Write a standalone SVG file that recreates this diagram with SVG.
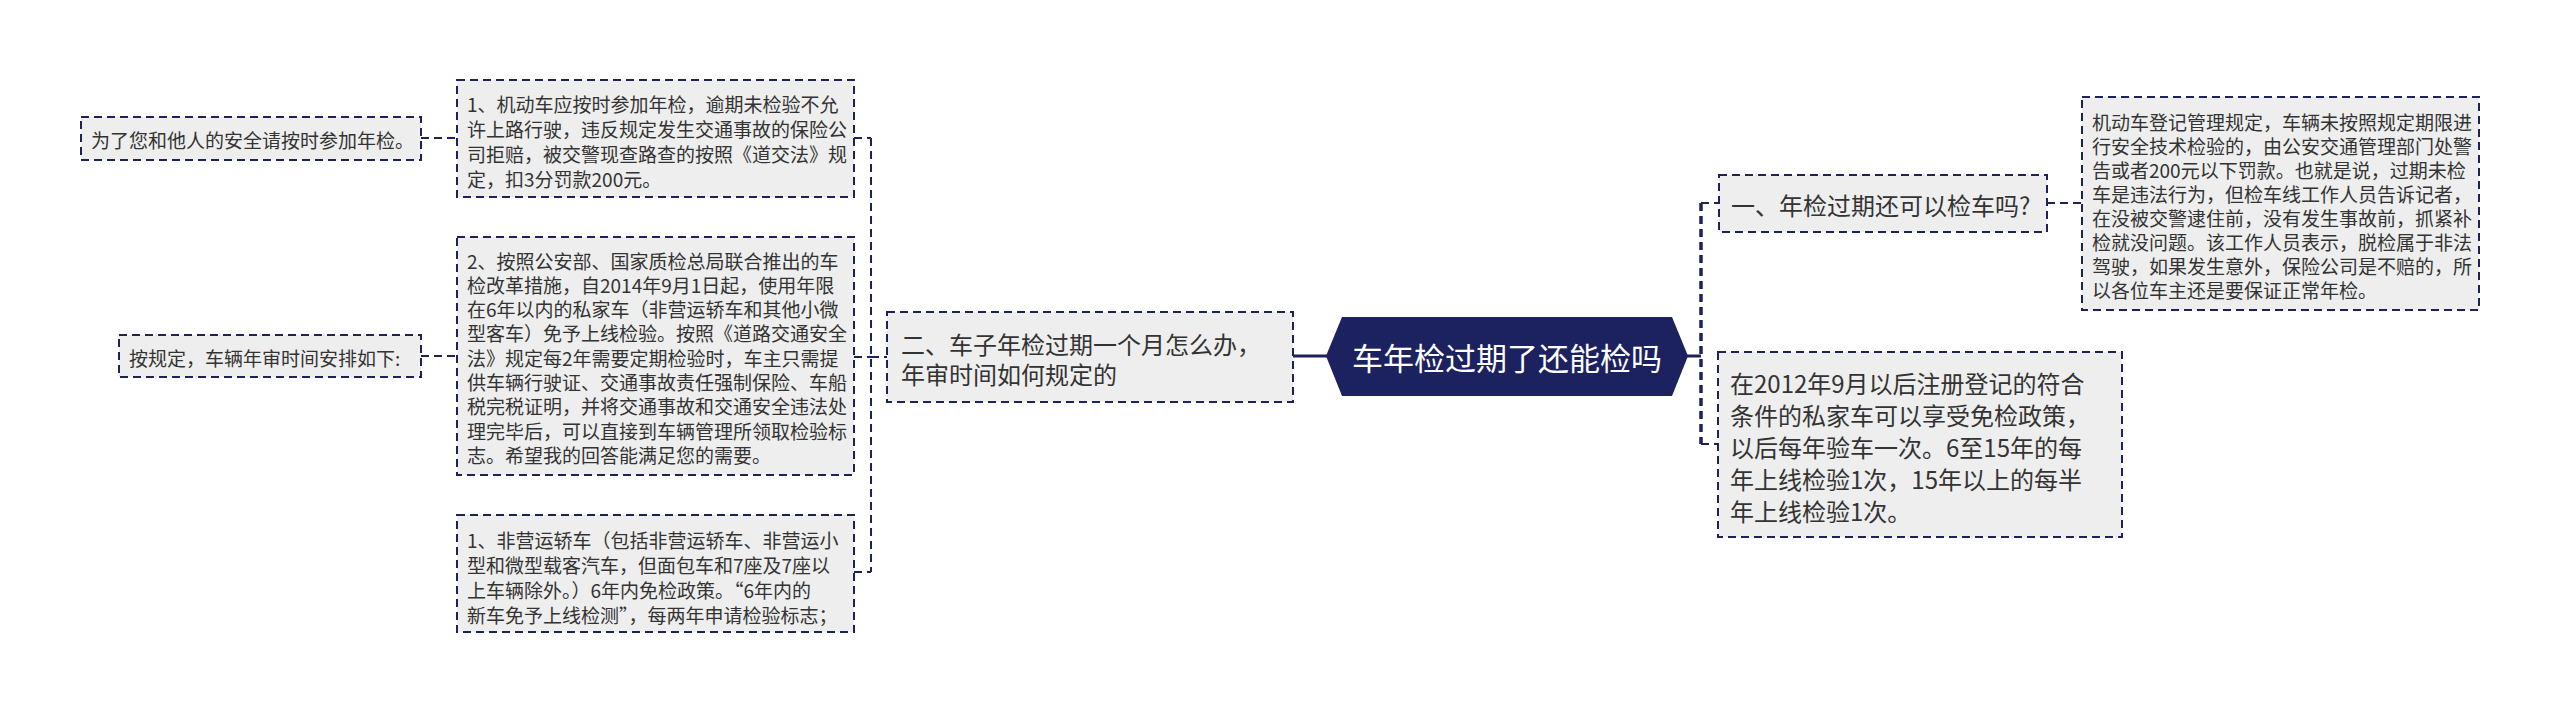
<svg xmlns="http://www.w3.org/2000/svg" width="2560" height="713" viewBox="0 0 2560 713">
<style>
.bg{fill:#ffffff}
.box{fill:#eeeeee;stroke:#1e2357;stroke-width:2;stroke-dasharray:8 5}
.t{font-family:"Noto Sans CJK SC","Noto Sans",sans-serif;fill:#333333;dominant-baseline:central}
.s19{font-size:19px}
.s24{font-size:24px}
.root{fill:#1c2160}
.rt{font-family:"Noto Sans CJK SC","Noto Sans",sans-serif;font-size:31px;fill:#ffffff;dominant-baseline:central;text-anchor:middle}
.dl{fill:none;stroke:#1e2357;stroke-width:2;stroke-dasharray:8 5}
.dr{fill:none;stroke:#1c2160;stroke-width:3.5;stroke-dasharray:8 5}
.sl{fill:none;stroke:#1c2160;stroke-width:3}
</style>
<rect class="bg" x="0" y="0" width="2560" height="713"/>
<g id="connectors">
  <line class="sl" x1="1293" y1="356" x2="1327" y2="356"/>
  <line class="dl" x1="871" y1="357" x2="887" y2="357"/>
  <line class="dl" x1="871" y1="138" x2="871" y2="572"/>
  <line class="dl" x1="854" y1="138" x2="871" y2="138"/>
  <line class="dl" x1="854" y1="357" x2="871" y2="357"/>
  <line class="dl" x1="854" y1="572" x2="871" y2="572"/>
  <line class="dl" x1="421" y1="138" x2="457" y2="138"/>
  <line class="dl" x1="421" y1="356" x2="457" y2="356"/>
  <line class="sl" x1="1687" y1="356" x2="1701" y2="356"/>
  <line class="dr" x1="1701" y1="203" x2="1701" y2="444"/>
  <line class="dl" x1="1701" y1="203" x2="1719" y2="203"/>
  <line class="dl" x1="1701" y1="444" x2="1718" y2="444"/>
  <line class="dl" x1="2047" y1="203" x2="2082" y2="203"/>
</g>
<g id="root">
  <polygon class="root" points="1326,356 1342,317 1672,317 1688,356 1672,396 1342,396"/>
  <text class="rt" x="1507" y="356">车年检过期了还能检吗</text>
</g>
<g id="n-left-main">
  <rect class="box" x="887" y="312" width="406" height="90"/>
  <text class="t s24" x="901" y="343">二、车子年检过期一个月怎么办，</text>
  <text class="t s24" x="901" y="373">年审时间如何规定的</text>
</g>
<g id="n-b1">
  <rect class="box" x="457" y="80" width="397" height="117"/>
  <text class="t s19" x="467" y="103">1、机动车应按时参加年检，逾期未检验不允</text>
  <text class="t s19" x="467" y="128">许上路行驶，违反规定发生交通事故的保险公</text>
  <text class="t s19" x="467" y="153">司拒赔，被交警现查路查的按照《道交法》规</text>
  <text class="t s19" x="467" y="178">定，扣3分罚款200元。</text>
</g>
<g id="n-b2">
  <rect class="box" x="457" y="237" width="397" height="238"/>
  <text class="t s19" x="467" y="260">2、按照公安部、国家质检总局联合推出的车</text>
  <text class="t s19" x="467" y="284.3">检改革措施，自2014年9月1日起，使用年限</text>
  <text class="t s19" x="467" y="308.6">在6年以内的私家车（非营运轿车和其他小微</text>
  <text class="t s19" x="467" y="332.9">型客车）免予上线检验。按照《道路交通安全</text>
  <text class="t s19" x="467" y="357.2">法》规定每2年需要定期检验时，车主只需提</text>
  <text class="t s19" x="467" y="381.5">供车辆行驶证、交通事故责任强制保险、车船</text>
  <text class="t s19" x="467" y="405.8">税完税证明，并将交通事故和交通安全违法处</text>
  <text class="t s19" x="467" y="430.1">理完毕后，可以直接到车辆管理所领取检验标</text>
  <text class="t s19" x="467" y="454.4">志。希望我的回答能满足您的需要。</text>
</g>
<g id="n-b3">
  <rect class="box" x="457" y="515" width="397" height="117"/>
  <text class="t s19" x="467" y="539">1、非营运轿车（包括非营运轿车、非营运小</text>
  <text class="t s19" x="467" y="564">型和微型载客汽车，但面包车和7座及7座以</text>
  <text class="t s19" x="467" y="589">上车辆除外。）6年内免检政策。“6年内的</text>
  <text class="t s19" x="467" y="614">新车免予上线检测”，每两年申请检验标志；</text>
</g>
<g id="n-a">
  <rect class="box" x="81" y="117" width="340" height="43"/>
  <text class="t s19" x="91" y="139">为了您和他人的安全请按时参加年检。</text>
</g>
<g id="n-c">
  <rect class="box" x="119" y="335" width="302" height="42"/>
  <text class="t s19" x="129" y="357">按规定，车辆年审时间安排如下:</text>
</g>
<g id="n-right-1">
  <rect class="box" x="1719" y="175" width="328" height="57"/>
  <text class="t s24" x="1731" y="204">一、年检过期还可以检车吗?</text>
</g>
<g id="n-right-1-detail">
  <rect class="box" x="2082" y="97" width="397" height="213"/>
  <text class="t s19" x="2092" y="121">机动车登记管理规定，车辆未按照规定期限进</text>
  <text class="t s19" x="2092" y="145">行安全技术检验的，由公安交通管理部门处警</text>
  <text class="t s19" x="2092" y="169">告或者200元以下罚款。也就是说，过期未检</text>
  <text class="t s19" x="2092" y="193">车是违法行为，但检车线工作人员告诉记者，</text>
  <text class="t s19" x="2092" y="217">在没被交警逮住前，没有发生事故前，抓紧补</text>
  <text class="t s19" x="2092" y="241">检就没问题。该工作人员表示，脱检属于非法</text>
  <text class="t s19" x="2092" y="265">驾驶，如果发生意外，保险公司是不赔的，所</text>
  <text class="t s19" x="2092" y="289">以各位车主还是要保证正常年检。</text>
</g>
<g id="n-right-2">
  <rect class="box" x="1718" y="352" width="404" height="185"/>
  <text class="t s24" x="1730" y="382">在2012年9月以后注册登记的符合</text>
  <text class="t s24" x="1730" y="414">条件的私家车可以享受免检政策，</text>
  <text class="t s24" x="1730" y="446">以后每年验车一次。6至15年的每</text>
  <text class="t s24" x="1730" y="478">年上线检验1次，15年以上的每半</text>
  <text class="t s24" x="1730" y="510">年上线检验1次。</text>
</g>
</svg>
